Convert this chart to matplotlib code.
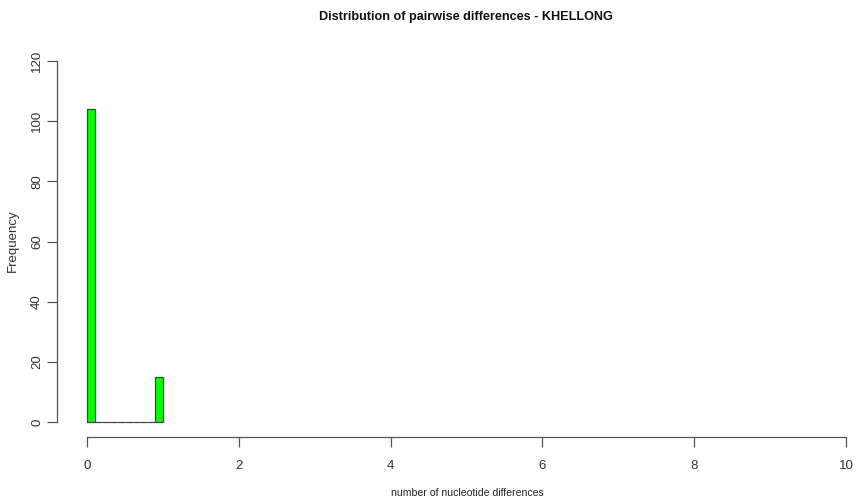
import matplotlib
matplotlib.use("Agg")
import matplotlib.pyplot as plt

# Histogram of pairwise nucleotide differences (bin width 0.1)
bin_edges = [0.0, 0.1, 0.2, 0.3, 0.4, 0.5, 0.6, 0.7, 0.8, 0.9, 1.0]
counts = [104, 0, 0, 0, 0, 0, 0, 0, 0, 15]
x_ticks = [0, 2, 4, 6, 8, 10]
y_ticks = [0, 20, 40, 60, 80, 100, 120]

W, H = 856, 504
plt.rcParams["font.family"] = ["Liberation Sans", "DejaVu Sans"]
fig = plt.figure(figsize=(W / 100, H / 100), dpi=100)

left, right, bottom, top = 57, 856, 436.7, 46.6
ax = fig.add_axes([left / W, 1 - bottom / H, (right - left) / W, (bottom - top) / H])

lefts = bin_edges[:-1]
widths = [b - a for a, b in zip(bin_edges[:-1], bin_edges[1:])]
ax.bar(lefts, counts, width=widths, align="edge", color="#00ff00",
       edgecolor="#444444", linewidth=0.9)

ax.set_xlim(-0.395, 10.13)
ax.set_ylim(-4.8, 124.8)

for s in ("top", "right"):
    ax.spines[s].set_visible(False)
ax.spines["left"].set_bounds(0, 120)
ax.spines["bottom"].set_bounds(0, 10)
for s in ("left", "bottom"):
    ax.spines[s].set_color("#555555")
    ax.spines[s].set_linewidth(0.9)

ax.set_xticks(x_ticks)
ax.set_yticks(y_ticks)
ax.tick_params(axis="both", direction="out", length=7, width=0.9,
               color="#555555", labelsize=9.5, labelcolor="#333333")
ax.tick_params(axis="x", pad=10)
ax.tick_params(axis="y", pad=3)
for lbl in ax.get_yticklabels():
    lbl.set_rotation(90)
    lbl.set_va("center")

fig.text(466 / W, 1 - 17 / H, "Distribution of pairwise differences - KHELLONG",
         ha="center", va="center", fontsize=9.1, fontweight="bold", color="#111111")
fig.text(467 / W, 1 - 493 / H, "number of nucleotide differences",
         ha="center", va="center", fontsize=7.6, color="#222222")
fig.text(13 / W, 1 - 241 / H, "Frequency", ha="center", va="center",
         rotation=90, fontsize=9.5, color="#333333")

fig.savefig("out.png", dpi=100)
